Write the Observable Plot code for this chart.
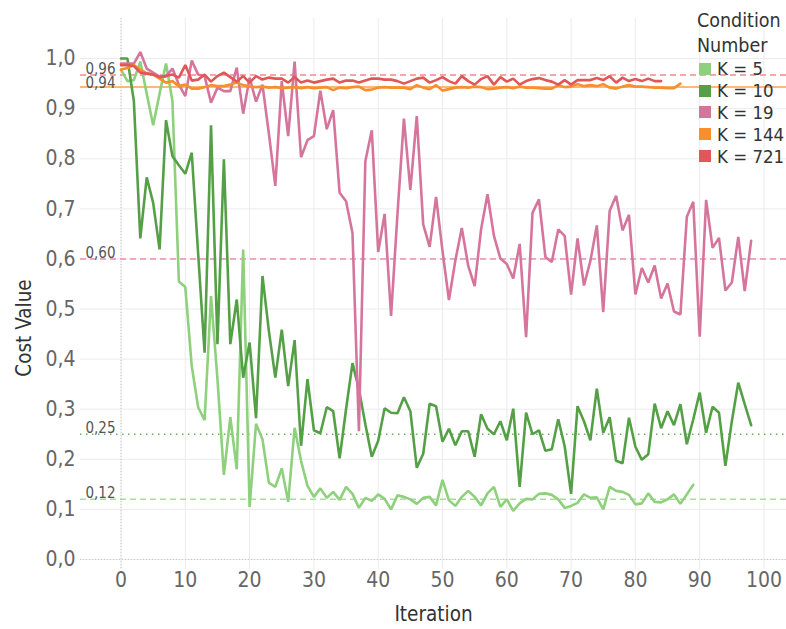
<!DOCTYPE html>
<html>
<head>
<meta charset="utf-8">
<script src="https://cdn.jsdelivr.net/npm/d3@7"></script>
<script src="https://cdn.jsdelivr.net/npm/@observablehq/plot@0.6"></script>
<style>
  body { margin: 0; background: #fff; }
  #wrap { position: relative; width: 786px; height: 629px; font-family: "DejaVu Sans Condensed", Roboto, sans-serif; }
  #legend { position: absolute; left: 697px; top: 8px; color: #333; }
  #legend .title { font-size: 19.5px; line-height: 25px; margin-bottom: 0px; }
  #legend .item { display: flex; align-items: center; height: 21.8px; font-size: 18.5px; color: #333; }
  #legend .sw { width: 12px; height: 12px; margin-right: 6px; margin-left: 2px; }
</style>
</head>
<body>
<div id="wrap"></div>
<script>
// ---- data ----
const seriesNames = ["K = 5", "K = 10", "K = 19", "K = 144", "K = 721"];
const seriesColors = ["#8ed07c", "#55a047", "#d6759c", "#f78f2e", "#e15759"];

const k5 = [0.978,0.955,0.957,0.994,0.93,0.867,0.93,0.99,0.915,0.555,0.544,0.386,0.304,0.278,0.526,0.36,0.169,0.284,0.18,0.619,
0.105,0.271,0.24,0.153,0.145,0.182,0.115,0.263,0.197,0.147,0.125,0.142,0.123,0.135,0.119,0.145,0.131,0.103,0.123,0.117,
0.13,0.121,0.1,0.128,0.125,0.12,0.111,0.123,0.125,0.108,0.159,0.118,0.107,0.125,0.137,0.125,0.108,0.132,0.145,0.105,
0.12,0.097,0.112,0.121,0.12,0.131,0.132,0.129,0.12,0.103,0.107,0.113,0.13,0.123,0.124,0.1,0.145,0.137,0.135,0.129,
0.11,0.112,0.132,0.115,0.114,0.12,0.13,0.111,0.13,0.149];

const k10 = [1.0,1.0,0.915,0.641,0.763,0.712,0.619,0.877,0.805,0.787,0.77,0.812,0.61,0.413,0.867,0.43,0.799,0.43,0.519,0.363,
0.433,0.282,0.566,0.456,0.363,0.459,0.346,0.438,0.227,0.36,0.258,0.252,0.304,0.296,0.202,0.30,0.392,0.34,0.27,0.205,
0.237,0.302,0.293,0.292,0.324,0.296,0.183,0.211,0.311,0.306,0.235,0.261,0.228,0.256,0.256,0.205,0.29,0.261,0.25,0.276,
0.238,0.301,0.145,0.293,0.25,0.258,0.217,0.22,0.28,0.226,0.131,0.306,0.276,0.238,0.341,0.253,0.284,0.197,0.192,0.283,
0.225,0.199,0.21,0.311,0.262,0.296,0.268,0.31,0.23,0.28,0.333,0.253,0.305,0.293,0.187,0.276,0.353,0.31,0.268];

const k19 = [0.99,0.99,0.99,1.013,0.98,0.972,0.964,0.965,0.98,0.948,0.925,0.996,0.968,0.965,0.912,0.942,0.935,0.935,0.982,0.89,
0.962,0.914,0.948,0.85,0.746,0.955,0.845,0.994,0.803,0.837,0.845,0.936,0.859,0.897,0.732,0.715,0.652,0.256,0.795,0.857,
0.614,0.69,0.486,0.69,0.88,0.738,0.885,0.669,0.624,0.724,0.616,0.518,0.597,0.662,0.586,0.546,0.659,0.729,0.646,0.601,
0.59,0.561,0.63,0.444,0.692,0.719,0.604,0.594,0.659,0.646,0.529,0.641,0.547,0.596,0.667,0.494,0.696,0.726,0.657,0.688,
0.529,0.582,0.553,0.587,0.521,0.551,0.495,0.489,0.684,0.714,0.445,0.718,0.622,0.642,0.537,0.553,0.644,0.536,0.636];

const k144 = [0.978,0.981,0.987,0.978,0.971,0.968,0.96,0.952,0.955,0.945,0.948,0.94,0.94,0.943,0.947,0.945,0.945,0.948,0.952,0.947,
0.944,0.943,0.944,0.942,0.943,0.941,0.942,0.943,0.941,0.943,0.941,0.942,0.943,0.937,0.942,0.941,0.943,0.944,0.937,0.938,
0.942,0.943,0.942,0.942,0.942,0.939,0.947,0.942,0.939,0.947,0.936,0.939,0.942,0.943,0.942,0.944,0.943,0.939,0.94,0.942,
0.943,0.941,0.944,0.942,0.942,0.941,0.94,0.94,0.947,0.943,0.944,0.949,0.945,0.947,0.945,0.949,0.942,0.94,0.944,0.947,
0.944,0.944,0.943,0.942,0.942,0.941,0.941,0.95];

const k721 = [0.987,0.987,0.985,0.972,0.97,0.968,0.963,0.965,0.968,0.962,0.987,0.956,0.958,0.968,0.954,0.965,0.972,0.963,0.954,0.965,
0.952,0.965,0.958,0.962,0.96,0.96,0.952,0.963,0.952,0.956,0.952,0.955,0.958,0.96,0.952,0.956,0.956,0.952,0.956,0.96,
0.96,0.958,0.958,0.955,0.95,0.955,0.96,0.962,0.952,0.957,0.963,0.955,0.95,0.965,0.955,0.948,0.959,0.965,0.948,0.963,
0.954,0.96,0.948,0.955,0.959,0.961,0.957,0.954,0.948,0.957,0.948,0.957,0.957,0.957,0.961,0.957,0.965,0.952,0.962,0.955,
0.959,0.955,0.96,0.955,0.955];

const seriesValues = [k5, k10, k19, k144, k721];

const refValues = [0.967, 0.943, 0.60, 0.25, 0.12];
const refLabels = ["0,96", "0,94", "0,60", "0,25", "0,12"];
const refColors = ["#f28b8b", "#f9a04c", "#ec8fb0", "#6ab45c", "#a7dd98"];
const refDash = ["6,4", null, "6,4", "1.5,4.5", "6,4"];

const xTicks = [0,10,20,30,40,50,60,70,80,90,100];
const yTicks = [0,0.1,0.2,0.3,0.4,0.5,0.6,0.7,0.8,0.9,1.0];

// ---- build ----
const rows = [];
seriesValues.forEach((vals, s) => vals.forEach((v, i) => rows.push({iteration: i, cost: v, series: seriesNames[s]})));

const refMarks = refValues.map((v, j) => Plot.ruleY([v], {
  stroke: refColors[j], strokeWidth: 1.5, strokeDasharray: refDash[j] || undefined
}));
const refText = refValues.map((v, j) => Plot.text([refLabels[j]], {
  y: () => v, frameAnchor: "left", dx: 5, dy: j === 1 ? 1 : -1, textAnchor: "start", lineAnchor: "bottom",
  fill: "#555", fontSize: 15
}));

const chart = Plot.plot({
  width: 786,
  height: 629,
  marginLeft: 80,
  marginRight: 0,
  marginTop: 18,
  marginBottom: 60,
  style: {fontFamily: '"DejaVu Sans Condensed", Roboto, sans-serif', background: "#fff"},
  x: {domain: [-6.3, 103.5]},
  y: {domain: [-0.02, 1.08]},
  color: {domain: seriesNames, range: seriesColors},
  marks: [
    Plot.gridX(xTicks, {stroke: "#ebebeb", strokeOpacity: 1, strokeWidth: 1}),
    Plot.gridY(yTicks, {stroke: "#ebebeb", strokeOpacity: 1, strokeWidth: 1}),
    Plot.ruleX([0], {stroke: "#c8c8c8", strokeDasharray: "1,2"}),
    Plot.ruleY([0], {stroke: "#c8c8c8", strokeDasharray: "1,2"}),
    ...refMarks,
    ...refText,
    Plot.line(rows, {x: "iteration", y: "cost", z: "series", stroke: "series", strokeWidth: 2.6, strokeLinejoin: "miter"}),
    Plot.axisX({ticks: xTicks, tickSize: 0, tickPadding: 3, fontSize: 21, fill: "#666", label: null}),
    Plot.axisY({ticks: yTicks, tickSize: 0, tickPadding: 5, fontSize: 21, fill: "#666", label: null,
      tickFormat: d => d.toFixed(1).replace(".", ",")}),
    Plot.text(["Iteration"], {frameAnchor: "bottom", dy: 45, lineAnchor: "middle", fontSize: 20.5, fill: "#333"}),
    Plot.text(["Cost Value"], {frameAnchor: "left", textAnchor: "middle", dx: -56, dy: 34, rotate: -90, fontSize: 20.5, fill: "#333"})
  ]
});

const wrap = document.getElementById("wrap");
wrap.appendChild(chart);

const legend = document.createElement("div");
legend.id = "legend";
legend.innerHTML = '<div class="title">Condition<br>Number</div>' +
  seriesNames.map((n, i) => `<div class="item"><span class="sw" style="background:${seriesColors[i]}"></span>${n}</div>`).join("");
wrap.appendChild(legend);
</script>
</body>
</html>
